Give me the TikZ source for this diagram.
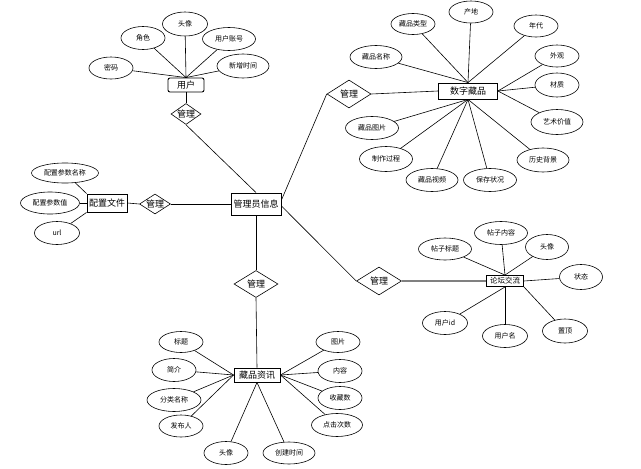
\documentclass[tikz,border=0pt]{standalone}
\usepackage{fontspec}
\setmainfont{Noto Sans CJK SC}
\usetikzlibrary{shapes.geometric}
\tikzset{
  attr/.style={ellipse,draw,line width=0.6pt,inner sep=0pt,font=\fontsize{7}{8}\selectfont},
  ent/.style={rectangle,draw,line width=0.9pt,inner sep=0pt,font=\fontsize{9}{10}\selectfont},
  rel/.style={diamond,draw,line width=0.6pt,inner sep=0pt,label={[font=\fontsize{9}{10}\selectfont]center:管理}},
  conn/.style={line width=0.6pt},
}
\begin{document}
\begin{tikzpicture}[x=1pt,y=-1pt]
\useasboundingbox (0,0) rectangle (641,469);
% entities
\node[ent,rounded corners=2pt,minimum width=36pt,minimum height=14pt] (yh) at (186,85) {用户};
\node[ent,minimum width=50pt,minimum height=22pt] (gly) at (256,204) {管理员信息};
\node[ent,minimum width=40pt,minimum height=18pt] (pz) at (107,203) {配置文件};
\node[ent,minimum width=59pt,minimum height=16pt] (szcp) at (468,91) {数字藏品};
\node[ent,minimum width=37pt,minimum height=11pt,font=\fontsize{7.5}{8}\selectfont] (lt) at (505,281) {论坛交流};
\node[ent,minimum width=46pt,minimum height=14pt] (cpzx) at (257,375) {藏品资讯};
% relations
\node[rel,minimum width=30pt,minimum height=21pt] (d1) at (186,114) {};
\node[rel,minimum width=31pt,minimum height=20pt] (d2) at (155,204) {};
\node[rel,minimum width=44pt,minimum height=27pt] (d3) at (256,284) {};
\node[rel,minimum width=44pt,minimum height=28pt] (d4) at (349,94) {};
\node[rel,minimum width=45pt,minimum height=28pt] (d5) at (379,281) {};
% user attributes
\node[attr,minimum width=44pt,minimum height=22pt] (mm) at (111,68) {密码};
\node[attr,minimum width=44pt,minimum height=23pt] (js) at (143,38) {角色};
\node[attr,minimum width=45pt,minimum height=24pt] (tx1) at (185,24) {头像};
\node[attr,minimum width=53pt,minimum height=23pt] (zh) at (229,39) {用户账号};
\node[attr,minimum width=52pt,minimum height=24pt] (xz) at (243,66) {新增时间};
% config attributes
\node[attr,minimum width=67pt,minimum height=20pt] (p1) at (65,173) {配置参数名称};
\node[attr,minimum width=59pt,minimum height=22pt] (p2) at (50,203) {配置参数值};
\node[attr,minimum width=45pt,minimum height=23pt] (p3) at (57,233) {url};
% collection attributes
\node[attr,minimum width=44pt,minimum height=21pt] (a1) at (413,24) {藏品类型};
\node[attr,minimum width=44pt,minimum height=22pt] (a2) at (471,12) {产地};
\node[attr,minimum width=44pt,minimum height=22pt] (a3) at (536,26) {年代};
\node[attr,minimum width=52pt,minimum height=23pt] (a4) at (376,57) {藏品名称};
\node[attr,minimum width=44pt,minimum height=22pt] (a5) at (557,56) {外观};
\node[attr,minimum width=44pt,minimum height=24pt] (a6) at (557,85) {材质};
\node[attr,minimum width=52pt,minimum height=25pt] (a7) at (557,122) {艺术价值};
\node[attr,minimum width=53pt,minimum height=23pt] (a8) at (372,128) {藏品图片};
\node[attr,minimum width=53pt,minimum height=25pt] (a9) at (386,159) {制作过程};
\node[attr,minimum width=52pt,minimum height=23pt] (a10) at (432,180) {藏品视频};
\node[attr,minimum width=53pt,minimum height=23pt] (a11) at (490,180) {保存状况};
\node[attr,minimum width=52pt,minimum height=24pt] (a12) at (543,160) {历史背景};
% forum attributes
\node[attr,minimum width=53pt,minimum height=22pt] (b1) at (445,249) {帖子标题};
\node[attr,minimum width=53pt,minimum height=23pt] (b2) at (501,233) {帖子内容};
\node[attr,minimum width=43pt,minimum height=25pt] (b3) at (547,247) {头像};
\node[attr,minimum width=43pt,minimum height=25pt] (b4) at (581,277) {状态};
\node[attr,minimum width=45pt,minimum height=23pt] (b5) at (445,323) {用户id};
\node[attr,minimum width=45pt,minimum height=23pt] (b6) at (505,336) {用户名};
\node[attr,minimum width=45pt,minimum height=24pt] (b7) at (565,331) {置顶};
% news attributes
\node[attr,minimum width=44pt,minimum height=21pt] (c1) at (181,342) {标题};
\node[attr,minimum width=44pt,minimum height=23pt] (c2) at (174,370) {简介};
\node[attr,minimum width=54pt,minimum height=23pt] (c3) at (174,400) {分类名称};
\node[attr,minimum width=44pt,minimum height=22pt] (c4) at (181,426) {发布人};
\node[attr,minimum width=44pt,minimum height=23pt] (c5) at (226,453) {头像};
\node[attr,minimum width=52pt,minimum height=22pt] (c6) at (289,453) {创建时间};
\node[attr,minimum width=44pt,minimum height=21pt] (c7) at (338,342) {图片};
\node[attr,minimum width=44pt,minimum height=23pt] (c8) at (340,371) {内容};
\node[attr,minimum width=44pt,minimum height=23pt] (c9) at (340,398) {收藏数};
\node[attr,minimum width=51pt,minimum height=23pt] (c10) at (337,425) {点击次数};
% relation connectors
\draw[conn] (yh.south) -- (d1.north);
\draw[conn] (d1.south) -- (gly.north);
\draw[conn] (pz.east) -- (d2.west);
\draw[conn] (d2.east) -- (gly.west);
\draw[conn] (gly.south) -- (d3.north);
\draw[conn] (d3.south) -- (cpzx.north);
\draw[conn] ([yshift=4pt]gly.east) -- (d4.west);
\draw[conn] (d4.east) -- (szcp.west);
\draw[conn] ([yshift=-2pt]gly.east) -- (d5.west);
\draw[line width=1.4pt,gray] (d5.east) -- (lt.west);
% user attribute lines
\foreach \n in {mm,js,tx1,zh,xz} \draw[conn] (\n) -- (yh.north);
% config lines
\draw[conn] (p1) -- (pz.north west);
\draw[conn] (p2) -- (pz.west);
\draw[conn] (p3) -- (pz.south west);
% collection lines
\foreach \n in {a1,a2,a3,a4} \draw[conn] (\n) -- (szcp.north);
\foreach \n in {a5,a6,a7} \draw[conn] (\n) -- (szcp.east);
\foreach \n in {a8,a9,a10,a11,a12} \draw[conn] (\n) -- (szcp.south);
% forum lines
\foreach \n in {b1,b2,b3} \draw[conn] (\n) -- (lt.north);
\draw[conn] (b4) -- (lt.east);
\draw[conn] (b5) -- (lt.south);
\draw[conn] (b6) -- (lt.south);
\draw[conn] (b7) -- (lt.south east);
% news lines
\foreach \n in {c1,c2,c3,c4} \draw[conn] (\n) -- (cpzx.west);
\foreach \n in {c7,c8,c9,c10} \draw[conn] (\n) -- (cpzx.east);
\draw[conn] (c5) -- (cpzx.south);
\draw[conn] (c6) -- (cpzx.south);
\end{tikzpicture}
\end{document}
